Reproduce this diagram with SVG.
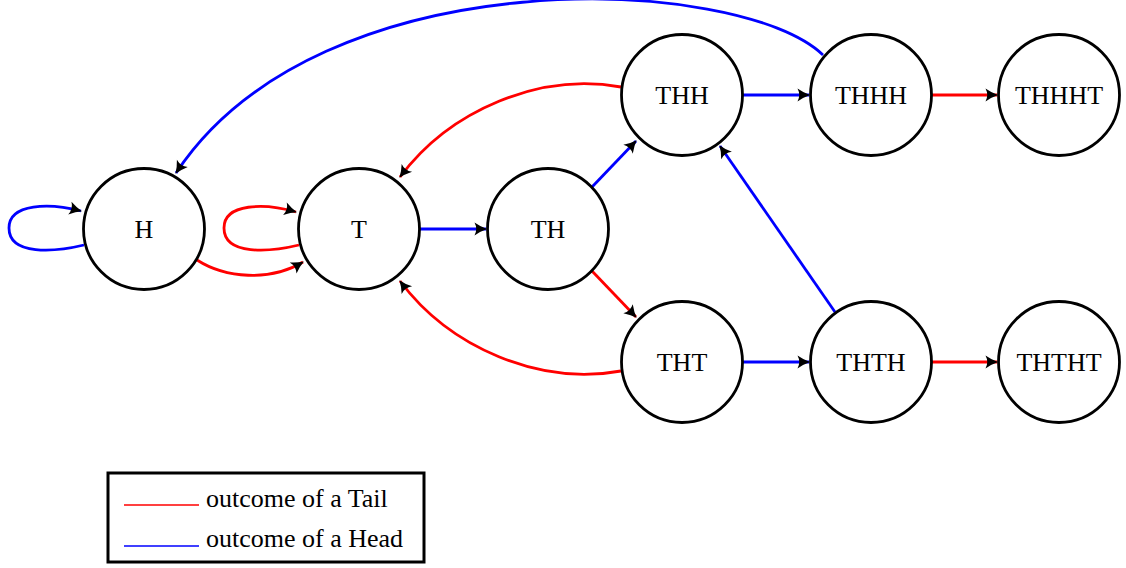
<svg xmlns="http://www.w3.org/2000/svg" width="1126" height="568" viewBox="0 0 1126 568">
<style>
.node circle{fill:#fff;stroke:#000;stroke-width:2.8}
.node text,.legend text{font-family:"Liberation Serif","Times New Roman",serif;font-size:26px;fill:#000}
.node text{text-anchor:middle}
.e{fill:none;stroke-width:2.8;marker-end:url(#arr)}
.t{stroke:#ff0000}
.h{stroke:#0000ff}
</style>
<defs>
<marker id="arr" markerUnits="userSpaceOnUse" markerWidth="16" markerHeight="16" viewBox="-14 -8 16 16" refX="-1" refY="0" orient="auto">
<path d="M0,0 Q-6,-2 -12.5,-6.5 Q-9,0 -12.5,6.5 Q-6,2 0,0 Z" fill="#000"/>
</marker>
</defs>
<rect width="1126" height="568" fill="#fff"/>
<g id="connectors">
<path class="e h" d="M84,245 C55,252 9,256 9,228 C9,203 50,203 81,211"/>
<path class="e t" d="M299,245 C270,252 224,256 224,228 C224,203 265,203 296,212"/>
<path class="e t" d="M197,260 C225,278 270,282 303,262"/>
<path class="e h" d="M420,229 L486,229"/>
<path class="e h" d="M592,187 L636,141"/>
<path class="e t" d="M592,271 L636,317"/>
<path class="e h" d="M743,95 L809,95"/>
<path class="e t" d="M932,95 L997,95"/>
<path class="e h" d="M743,362 L809,362"/>
<path class="e t" d="M932,362 L997,362"/>
<path class="e h" d="M835,312 L720,146"/>
<path class="e t" d="M621,87 C540,72 450,110 400,177"/>
<path class="e t" d="M621,371 C540,386 450,348 400,281"/>
<path class="e h" d="M823,55 C740,-25 320,-45 176,173"/>
</g>
<g id="H" class="node"><circle cx="144" cy="229" r="60.5"/><text x="144" y="238">H</text></g>
<g id="T" class="node"><circle cx="359" cy="229" r="60.5"/><text x="359" y="238">T</text></g>
<g id="TH" class="node"><circle cx="548" cy="229" r="60.5"/><text x="548" y="238">TH</text></g>
<g id="THH" class="node"><circle cx="682" cy="95" r="60.5"/><text x="682" y="104">THH</text></g>
<g id="THHH" class="node"><circle cx="871" cy="95" r="60.5"/><text x="871" y="104">THHH</text></g>
<g id="THHHT" class="node"><circle cx="1059" cy="95" r="60.5"/><text x="1059" y="104">THHHT</text></g>
<g id="THT" class="node"><circle cx="682" cy="362" r="60.5"/><text x="682" y="371">THT</text></g>
<g id="THTH" class="node"><circle cx="871" cy="362" r="60.5"/><text x="871" y="371">THTH</text></g>
<g id="THTHT" class="node"><circle cx="1059" cy="362" r="60.5"/><text x="1059" y="371">THTHT</text></g>
<g id="legend" class="legend">
<rect x="108" y="473" width="316" height="89" fill="#fff" stroke="#000" stroke-width="3"/>
<line x1="124" y1="505" x2="199" y2="505" stroke="#ff0000" stroke-width="1.4"/>
<line x1="124" y1="546" x2="199" y2="546" stroke="#0000ff" stroke-width="1.4"/>
<text x="206" y="506.5">outcome of a Tail</text>
<text x="206" y="546.5">outcome of a Head</text>
</g>
</svg>
